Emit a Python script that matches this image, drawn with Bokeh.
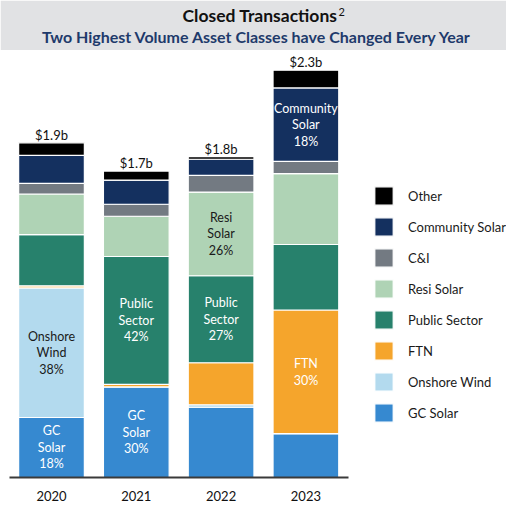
from bokeh.plotting import figure
from bokeh.models import (ColumnDataSource, Range1d, FixedTicker, Legend, LegendItem,
                          BoxAnnotation, Label)
from bokeh.core.properties import value
from bokeh.embed import file_html
from bokeh.resources import INLINE

# ---------------- data ($ billions) ----------------
years = ["2020", "2021", "2022", "2023"]
series = ["GC Solar", "Onshore Wind", "FTN", "Public Sector", "Resi Solar",
          "C&I", "Community Solar", "Other"]
gc_solar = [0.340, 0.513, 0.398, 0.248]
onshore_wind = [0.734, 0.000, 0.014, 0.000]
ftn = [0.012, 0.014, 0.238, 0.701]
public_sector = [0.290, 0.725, 0.493, 0.371]
resi_solar = [0.230, 0.228, 0.474, 0.401]
c_and_i = [0.060, 0.068, 0.095, 0.070]
community_solar = [0.159, 0.137, 0.091, 0.416]
other = [0.071, 0.051, 0.015, 0.100]
total_labels = ["$1.9b", "$1.7b", "$1.8b", "$2.3b"]

colors = ["#3689d0", "#b3daee", "#f5a52c", "#27816c", "#afd3b5",
          "#737a82", "#14305f", "#000000"]
dark_text_series = ["Onshore Wind", "Resi Solar"]

# in-bar annotations
seg_label_year = [0, 0, 1, 1, 2, 2, 3, 3]
seg_label_series = ["GC Solar", "Onshore Wind", "GC Solar", "Public Sector",
                    "Public Sector", "Resi Solar", "FTN", "Community Solar"]
seg_label_text = ["GC\nSolar\n18%", "Onshore\nWind\n38%", "GC\nSolar\n30%",
                  "Public\nSector\n42%", "Public\nSector\n27%", "Resi\nSolar\n26%",
                  "FTN\n30%", "Community\nSolar\n18%"]

title_text = "Closed Transactions"
title_sup = "2"
subtitle_text = "Two Highest Volume Asset Classes have Changed Every Year"

# ---------------- layout ----------------
W, H = 506, 503
BASE_PX = 481          # frame height (baseline position from top)
PX_PER_B = 178.0
BAR_X0 = 51.0          # px of first bar center
BAR_STEP = 84.8        # px between bar centers
FONT = "Lato"

def xd(px):
    return (px - BAR_X0) / BAR_STEP

def yd(px_from_top):
    return (BASE_PX - px_from_top) / PX_PER_B

values = [gc_solar, onshore_wind, ftn, public_sector, resi_solar,
          c_and_i, community_solar, other]
idx = list(range(len(years)))
data = {"x": idx}
for name, vals in zip(series, values):
    data[name] = vals
source = ColumnDataSource(data)

p = figure(width=W, height=H, output_backend="svg", toolbar_location=None,
           x_range=Range1d(xd(0), xd(W)), y_range=Range1d(0, BASE_PX / PX_PER_B),
           y_axis_location=None, min_border=0, min_border_bottom=H - BASE_PX,
           outline_line_color=None, background_fill_color="white",
           border_fill_color="white")
p.xgrid.visible = False
p.ygrid.visible = False

# header band
p.add_layout(BoxAnnotation(bottom=yd(50), fill_color="#e1e2e4", fill_alpha=1.0,
                           line_color=None, level="underlay"))

renderers = p.vbar_stack(series, x="x", width=0.775, source=source, color=colors,
                         line_color="white", line_width=1.2)

# totals above bars
totals = [sum(v[i] for v in values) for i in idx]
p.text(x=idx, y=totals, text=total_labels, text_align="center",
       text_baseline="middle", y_offset=-8, text_font=value(FONT),
       text_font_size=value("13px"), text_color="#111111")

# in-bar labels
lx, ly, lcol = [], [], []
for yi, s in zip(seg_label_year, seg_label_series):
    k = series.index(s)
    bottom = sum(values[j][yi] for j in range(k))
    lx.append(yi)
    ly.append(bottom + values[k][yi] / 2)
    lcol.append("#1a1a1a" if s in dark_text_series else "white")
lab_src = ColumnDataSource(dict(x=lx, y=ly, text=seg_label_text, color=lcol))
p.text(x="x", y="y", text="text", text_color="color", source=lab_src,
       text_align="center", text_baseline="middle", text_line_height=1.1,
       text_font=value(FONT), text_font_size=value("12.5px"))

# x axis
ax = p.xaxis[0]
ax.ticker = FixedTicker(ticks=idx)
ax.major_label_overrides = {i: y for i, y in zip(idx, years)}
ax.bounds = (xd(9), xd(348))
ax.axis_line_color = "#3a3a3a"
ax.axis_line_width = 2
ax.major_tick_line_color = None
ax.minor_tick_line_color = None
ax.major_label_standoff = 7
ax.major_label_text_font = FONT
ax.major_label_text_font_size = "13px"
ax.major_label_text_color = "#111111"

# legend (top to bottom: reverse stack order)
items = [LegendItem(label=s, renderers=[r]) for s, r in zip(series, renderers)][::-1]
legend = Legend(items=items, location=(372, BASE_PX - 428), glyph_width=23,
                glyph_height=23, label_height=23, spacing=8, label_standoff=13,
                padding=0, margin=0, border_line_color=None, background_fill_alpha=0,
                label_text_font=FONT, label_text_font_size="13px",
                label_text_color="#1a1a1a")
p.add_layout(legend)

# header texts
p.add_layout(Label(x=xd(337), y=yd(15), text=title_text, text_align="right",
                   text_baseline="middle", text_font=FONT, text_font_size="17.5px",
                   text_font_style="bold", text_color="#111111"))
p.add_layout(Label(x=xd(338), y=yd(12), text=title_sup, text_align="left",
                   text_baseline="middle", text_font=FONT, text_font_size="11px",
                   text_color="#111111"))
p.add_layout(Label(x=xd(256.5), y=yd(36.5), text=subtitle_text, text_align="center",
                   text_baseline="middle", text_font=FONT, text_font_size="16px",
                   text_font_style="bold", text_color="#1e3a6b"))

open("out.html", "w").write(file_html(p, INLINE))
